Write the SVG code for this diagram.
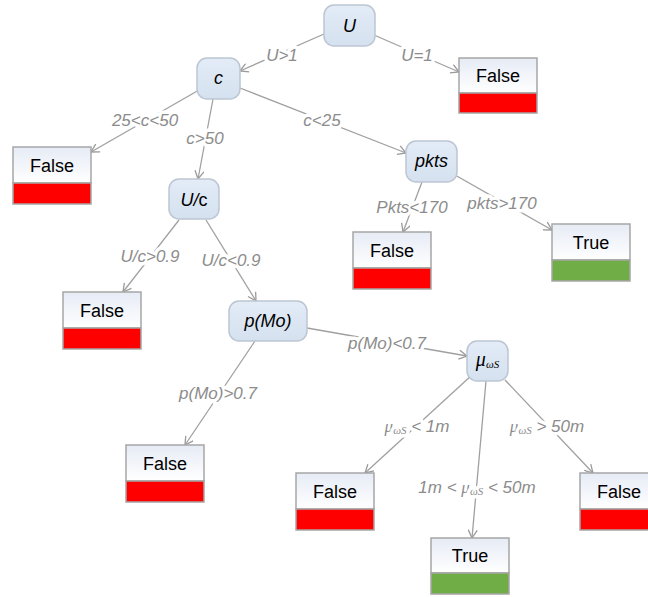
<svg xmlns="http://www.w3.org/2000/svg" width="648" height="597" viewBox="0 0 648 597">
<defs>
  <linearGradient id="ng" x1="0" y1="0" x2="0" y2="1">
    <stop offset="0" stop-color="#e3ecf7"/>
    <stop offset="1" stop-color="#d5e1ef"/>
  </linearGradient>
  <linearGradient id="lg" x1="0" y1="0" x2="0" y2="1">
    <stop offset="0" stop-color="#e6ebf5"/>
    <stop offset="1" stop-color="#ffffff"/>
  </linearGradient>
  <marker id="arr" viewBox="0 0 10 10" refX="9" refY="5" markerWidth="10" markerHeight="10" markerUnits="userSpaceOnUse" orient="auto">
    <path d="M1,0.5 L9,5 L1,9.5" fill="none" stroke="#9a9a9a" stroke-width="1.3"/>
  </marker>
</defs>
<style>
  .node rect { fill: url(#ng); stroke: #bcc6d2; stroke-width: 1.5; }
  .node text { font-family: "Liberation Sans", Arial, sans-serif; font-size: 18px; font-style: italic; fill: #000; text-anchor: middle; }
  .leaf .top { fill: url(#lg); stroke: #a6a6a6; stroke-width: 1.5; }
  .leaf .f { fill: #ff0000; stroke: #a6a6a6; stroke-width: 1.5; }
  .leaf .t { fill: #70ad47; stroke: #a6a6a6; stroke-width: 1.5; }
  .leaf text { font-family: "Liberation Sans", Arial, sans-serif; font-size: 18px; fill: #000; text-anchor: middle; }
  .edges line { stroke: #a0a0a0; stroke-width: 1.3; marker-end: url(#arr); }
  .edges text { font-family: "Liberation Sans", Arial, sans-serif; font-size: 17px; font-style: italic; fill: #8c8c8c; text-anchor: middle; paint-order: stroke; stroke: #ffffff; stroke-width: 7px; stroke-linejoin: round; }
  .mu { font-family: "Liberation Serif", "Times New Roman", serif; font-style: italic; }
  .sub { font-family: "Liberation Serif", "Times New Roman", serif; font-style: italic; font-size: 11px; }
</style>

<g id="connectors" class="edges">
  <line x1="324" y1="34" x2="240" y2="71"/>
  <line x1="374" y1="35" x2="459" y2="72"/>
  <line x1="199" y1="90" x2="91" y2="152"/>
  <line x1="213" y1="99" x2="198" y2="179"/>
  <line x1="240" y1="88" x2="406" y2="153"/>
  <line x1="422" y1="182" x2="403" y2="232"/>
  <line x1="455" y1="175" x2="552" y2="230"/>
  <line x1="179" y1="220" x2="123" y2="292"/>
  <line x1="206" y1="220" x2="256" y2="301"/>
  <line x1="255" y1="341" x2="185" y2="445"/>
  <line x1="307" y1="328" x2="467" y2="356"/>
  <line x1="472" y1="375" x2="365" y2="473"/>
  <line x1="486" y1="381" x2="472" y2="538"/>
  <line x1="505" y1="380" x2="593" y2="473"/>

  <text x="282" y="61">U&gt;1</text>
  <text x="417" y="61">U=1</text>
  <text x="145" y="126">25&lt;c&lt;50</text>
  <text x="205" y="144">c&gt;50</text>
  <text x="322" y="126">c&lt;25</text>
  <text x="412" y="213">Pkts&lt;170</text>
  <text x="502" y="209">pkts&gt;170</text>
  <text x="150" y="262">U/c&gt;0.9</text>
  <text x="231" y="266">U/c&lt;0.9</text>
  <text x="218" y="399">p(Mo)&gt;0.7</text>
  <text x="387" y="349">p(Mo)&lt;0.7</text>
  <text x="417" y="432"><tspan class="mu">μ</tspan><tspan class="sub" dy="2">ωS</tspan><tspan dy="-2"> &lt; 1m</tspan></text>
  <text x="477" y="493">1m &lt; <tspan class="mu">μ</tspan><tspan class="sub" dy="2">ωS</tspan><tspan dy="-2"> &lt; 50m</tspan></text>
  <text x="547" y="432"><tspan class="mu">μ</tspan><tspan class="sub" dy="2">ωS</tspan><tspan dy="-2"> &gt; 50m</tspan></text>
</g>

<g id="node-U" class="node">
  <rect x="324" y="5" width="51" height="41" rx="10"/>
  <text x="349.5" y="32">U</text>
</g>
<g id="node-c" class="node">
  <rect x="197" y="58" width="43" height="41" rx="10"/>
  <text x="218.5" y="84">c</text>
</g>
<g id="node-Uc" class="node">
  <rect x="169" y="179" width="50" height="40" rx="10"/>
  <text x="194" y="205.5">U/<tspan font-style="normal">c</tspan></text>
</g>
<g id="node-pkts" class="node">
  <rect x="406" y="141" width="51" height="41" rx="10"/>
  <text x="431.5" y="167">pkts</text>
</g>
<g id="node-pMo" class="node">
  <rect x="229" y="301" width="78" height="40" rx="10"/>
  <text x="268" y="327">p(Mo)</text>
</g>
<g id="node-mu" class="node">
  <rect x="467" y="341" width="41" height="40" rx="10"/>
  <text x="487.5" y="366"><tspan class="mu" font-size="20">μ</tspan><tspan class="sub" dy="2">ωS</tspan></text>
</g>

<g id="leaf-U1" class="leaf">
  <rect class="top" x="459" y="58" width="78" height="35"/>
  <rect class="f" x="459" y="93" width="78" height="20"/>
  <text x="498" y="81.5">False</text>
</g>
<g id="leaf-c2550" class="leaf">
  <rect class="top" x="13" y="147" width="78" height="36"/>
  <rect class="f" x="13" y="183" width="78" height="21"/>
  <text x="52" y="171.5">False</text>
</g>
<g id="leaf-pkts-lt" class="leaf">
  <rect class="top" x="353" y="232" width="78" height="36"/>
  <rect class="f" x="353" y="268" width="78" height="21"/>
  <text x="392" y="256.5">False</text>
</g>
<g id="leaf-pkts-gt" class="leaf">
  <rect class="top" x="552" y="224" width="78" height="36"/>
  <rect class="t" x="552" y="260" width="78" height="21"/>
  <text x="591" y="248.5">True</text>
</g>
<g id="leaf-Uc-gt" class="leaf">
  <rect class="top" x="63" y="292" width="78" height="36"/>
  <rect class="f" x="63" y="328" width="78" height="21"/>
  <text x="102" y="316.5">False</text>
</g>
<g id="leaf-pMo-gt" class="leaf">
  <rect class="top" x="126" y="445" width="78" height="36"/>
  <rect class="f" x="126" y="481" width="78" height="21"/>
  <text x="165" y="469.5">False</text>
</g>
<g id="leaf-mu-lt" class="leaf">
  <rect class="top" x="296" y="473" width="78" height="36"/>
  <rect class="f" x="296" y="509" width="78" height="21"/>
  <text x="335" y="497.5">False</text>
</g>
<g id="leaf-mu-mid" class="leaf">
  <rect class="top" x="431" y="538" width="78" height="35"/>
  <rect class="t" x="431" y="573" width="78" height="21"/>
  <text x="470" y="561.5">True</text>
</g>
<g id="leaf-mu-gt" class="leaf">
  <rect class="top" x="580" y="473" width="78" height="36"/>
  <rect class="f" x="580" y="509" width="78" height="21"/>
  <text x="619" y="497.5">False</text>
</g>
</svg>
